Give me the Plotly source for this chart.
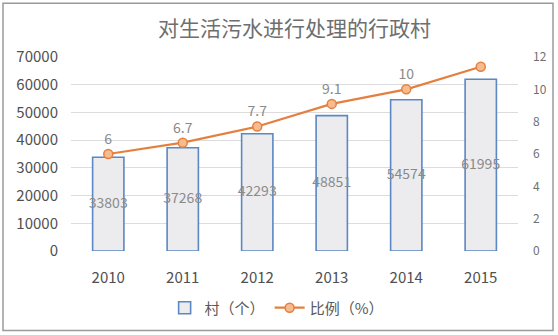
import plotly.graph_objects as go

years = ["2010", "2011", "2012", "2013", "2014", "2015"]
villages = [33803, 37268, 42293, 48851, 54574, 61995]
ratio = [6, 6.7, 7.7, 9.1, 10, 11.4]
bar_name = "村（个）"
line_name = "比例（%）"
title_text = "对生活污水进行处理的行政村"

FONT = "Noto Sans CJK SC"
fig = go.Figure()

fig.add_trace(go.Bar(
    x=years, y=villages, name=bar_name, width=0.42,
    marker=dict(color="#ececef", line=dict(color="#5b87c2", width=1.6)),
    yaxis="y",
))
fig.add_trace(go.Scatter(
    x=years, y=[v / 2 for v in villages], mode="text",
    text=[str(v) for v in villages], showlegend=False, hoverinfo="skip",
    textfont=dict(family=FONT, size=14, color="#8a8a8a"), yaxis="y",
))
fig.add_trace(go.Scatter(
    x=years, y=ratio, name=line_name, mode="lines+markers+text",
    text=[f"{r:g}" for r in ratio], textposition="top center",
    textfont=dict(family=FONT, size=14, color="#8a8a8a"),
    line=dict(color="#e4803f", width=2.2),
    marker=dict(size=9, color="#f6bb8e", line=dict(color="#e4803f", width=1.5)),
    yaxis="y2",
))

fig.update_layout(
    width=558, height=335,
    margin=dict(l=71, r=40, t=57, b=83),
    paper_bgcolor="white", plot_bgcolor="white",
    font=dict(family=FONT, color="#595959"),
    title=dict(text=title_text, x=0.5, xref="paper", xanchor="center",
               y=1 - 29 / 335, yanchor="middle",
               font=dict(family=FONT, size=21, color="#6e6e6e")),
    bargap=0.58,
    xaxis=dict(showgrid=False, showline=False, ticks="", ticklabelstandoff=16,
               tickfont=dict(family=FONT, size=15, color="#505050")),
    yaxis=dict(range=[0, 70000], dtick=10000, tickformat="d",
               showgrid=True, gridcolor="#dcdcdc",
               gridwidth=1, zeroline=False, showline=False, ticks="",
               ticklabelstandoff=12,
               tickfont=dict(family=FONT, size=15, color="#505050")),
    yaxis2=dict(range=[0, 12], dtick=2, overlaying="y", side="right",
                showgrid=False, zeroline=False, showline=False, ticks="",
                ticklabelstandoff=14,
                tickfont=dict(family=FONT, size=12, color="#707070")),
    legend=dict(orientation="h", x=0.46, xanchor="center", y=-0.287,
                yanchor="middle", font=dict(family=FONT, size=15, color="#595959"),
                itemwidth=30, tracegroupgap=0),
    shapes=[dict(type="rect", xref="paper", yref="paper",
                 x0=(3 - 71) / 447, x1=(553 - 71) / 447,
                 y0=(252 - 332) / 195, y1=(252 - 3) / 195,
                 line=dict(color="#9a9a9a", width=1.5), fillcolor="rgba(0,0,0,0)",
                 layer="below")],
)

fig.write_html("out.html")
